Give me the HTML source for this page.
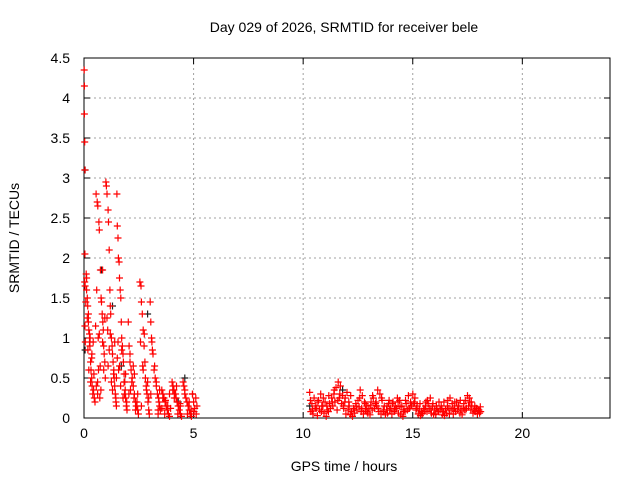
<!DOCTYPE html>
<html><head><meta charset="utf-8"><style>
html,body{margin:0;padding:0;background:#fff}
svg{display:block;font-family:"Liberation Sans",sans-serif}
</style></head><body>
<svg id="chart" width="640" height="480">
<text x="344" y="32" font-size="14" text-anchor="middle">Day 029 of 2026, SRMTID for receiver bele</text>
<text x="344" y="471" font-size="14" text-anchor="middle">GPS time / hours</text>
<text x="19" y="238" font-size="14" text-anchor="middle" transform="rotate(-90 19 238)">SRMTID / TECUs</text>
<g id="grid"></g>
<g id="axes"></g>
<g id="marks"></g>
</svg>
<script>
const xTicks=[0,5,10,15,20];
const yTicks=[0,0.5,1,1.5,2,2.5,3,3.5,4,4.5];
const yTickLabels=["0","0.5","1","1.5","2","2.5","3","3.5","4","4.5"];
const earlyT=[0.01,0.02,0.02,0.03,0.04,0.04,0.03,0.05,0.04,0.06,
0.1,0.12,0.15,0.17,0.2,0.22,0.25,0.27,0.3,0.32,0.35,0.37,0.4,0.12,0.2,0.28,0.36,0.44,0.47,
0.55,0.6,0.63,0.68,0.7,0.75,0.78,0.8,0.83,0.86,0.88,0.9,0.92,0.95,0.97,0.56,0.62,0.72,0.85,0.66,
1.0,1.02,1.05,1.1,1.12,1.15,1.18,1.2,1.22,1.25,1.28,1.3,1.33,1.36,1.38,1.4,1.43,1.46,1.48,1.08,
1.5,1.52,1.55,1.57,1.6,1.62,1.65,1.68,1.7,1.72,1.75,1.78,1.8,1.83,1.86,1.88,1.9,1.93,1.96,1.58,
2.02,2.06,2.1,2.15,2.2,2.25,2.3,2.35,2.4,2.45,2.48,2.12,2.28,2.38,
2.55,2.6,2.62,2.66,2.7,2.74,2.78,2.8,2.84,2.88,2.92,2.95,2.98,2.7,
3.02,3.05,3.08,3.1,3.15,3.2,3.25,3.3,3.35,3.4,3.42,3.45,3.48,3.38,
3.55,3.6,3.65,3.7,3.75,3.8,3.85,3.9,3.95,3.72,
4.02,4.06,4.1,4.15,4.2,4.25,4.3,4.35,4.4,4.45,4.18,4.38,
4.52,4.56,4.6,4.65,4.7,4.75,4.8,4.85,4.9,4.95,5.0,5.05,5.1,5.15];
const earlyV=[4.35,4.15,3.8,3.45,3.1,2.05,1.7,1.65,1.15,0.95,
1.8,1.6,1.5,1.4,1.2,1.1,0.95,0.9,0.7,0.6,0.5,0.4,0.3,1.75,1.3,1.0,0.8,0.35,0.25,
2.8,2.7,2.65,2.45,2.35,1.85,1.5,1.45,1.3,1.2,1.1,0.9,0.8,0.7,0.5,0.4,0.3,0.25,1.85,0.6,
2.95,2.9,2.8,2.6,2.45,2.1,1.6,1.4,1.3,1.0,0.9,0.8,0.7,0.6,0.5,0.4,0.3,0.2,0.15,1.1,
2.8,2.4,2.25,2.0,1.95,1.75,1.6,1.5,1.2,1.0,0.9,0.8,0.7,0.55,0.45,0.35,0.25,0.15,0.1,0.6,
1.2,0.9,0.8,0.6,0.5,0.4,0.3,0.2,0.15,0.1,0.05,0.35,0.25,0.15,
1.7,1.65,1.45,1.3,1.1,0.9,0.7,0.5,0.4,0.3,0.2,0.1,0.05,0.6,
1.45,1.2,1.0,0.95,0.8,0.6,0.5,0.4,0.3,0.25,0.2,0.15,0.1,0.05,
0.35,0.3,0.25,0.2,0.15,0.1,0.05,0.02,0.12,0.22,
0.45,0.4,0.35,0.3,0.25,0.2,0.15,0.1,0.05,0.02,0.3,0.18,
0.45,0.4,0.3,0.25,0.2,0.15,0.1,0.05,0.02,0.3,0.2,0.12,0.25,0.15];
const earlyT2=[0.15,0.45,0.25,0.35,0.08,0.5,0.3,0.18,0.42,0.22,
0.65,0.9,0.58,0.77,0.95,0.7,0.62,0.85,0.53,0.74,
1.15,1.35,1.05,1.45,1.25,1.4,1.1,1.3,1.2,1.48,
1.62,1.85,1.55,1.95,1.72,1.67,1.9,1.78,1.52,1.83,
2.05,2.3,2.18,2.42,2.1,2.35,2.25,2.45,
2.58,2.85,2.68,2.95,2.75,2.62,2.9,
3.12,3.3,3.22,3.45,3.05,3.38,
3.6,3.82,3.68,3.9,3.55,
4.05,4.28,4.12,4.4,4.22,
4.6,4.88,4.72,5.02,4.8,5.12,4.95];
const earlyV2=[1.25,0.55,1.05,0.75,1.45,0.2,0.45,0.85,0.95,0.6,
1.0,0.6,1.6,0.35,1.25,1.05,0.45,0.95,1.15,0.65,
0.85,0.55,1.25,0.25,0.45,0.95,0.65,0.35,1.05,0.5,
0.65,0.3,0.95,0.2,0.85,0.4,0.55,0.25,0.75,0.45,
0.3,0.55,0.45,0.2,0.7,0.1,0.65,0.3,
0.95,0.35,0.65,0.25,1.05,0.15,0.45,
0.85,0.45,0.65,0.35,0.3,0.1,
0.25,0.15,0.05,0.3,0.12,
0.35,0.05,0.25,0.15,0.4,
0.35,0.1,0.05,0.08,0.2,0.05,0.3];
const lateT=[10.3,10.4,10.5,10.6,10.7,10.8,10.9,11.0,
11.1,11.2,11.3,11.4,11.5,11.6,11.7,11.8,11.9,
12.0,12.1,12.2,12.3,12.4,12.5,12.6,12.7,12.8,12.9,
13.0,13.1,13.2,13.3,13.4,13.5,13.6,13.7,13.8,13.9,
14.0,14.1,14.2,14.3,14.4,14.5,14.6,14.7,14.8,14.9,
15.0,15.1,15.2,15.3,15.4,15.5,15.6,15.7,15.8,15.9,
16.0,16.1,16.2,16.3,16.4,16.5,16.6,16.7,16.8,16.9,
17.0,17.1,17.2,17.3,17.4,17.5,17.6,17.7,17.8,17.9,
18.0,18.1];
const lateV=[0.32,0.18,0.25,0.12,0.22,0.3,0.15,0.2,
0.1,0.18,0.25,0.3,0.38,0.45,0.4,0.28,0.2,
0.32,0.15,0.08,0.12,0.18,0.22,0.35,0.28,0.2,0.15,
0.12,0.2,0.25,0.18,0.35,0.3,0.22,0.15,0.1,0.18,
0.12,0.2,0.15,0.25,0.22,0.15,0.1,0.18,0.28,0.2,
0.3,0.25,0.15,0.1,0.08,0.12,0.2,0.18,0.25,0.15,
0.1,0.12,0.2,0.15,0.08,0.1,0.22,0.25,0.18,0.12,
0.2,0.15,0.1,0.12,0.22,0.28,0.2,0.15,0.1,0.12,
0.1,0.08];
const lateT2=[10.33,10.42,10.58,10.67,10.83,10.92,11.08,11.17,11.33,11.42,11.58,11.67,11.83,11.92,
12.08,12.17,12.33,12.42,12.58,12.67,12.83,12.92,
13.08,13.17,13.33,13.42,13.58,13.67,13.83,13.92,
14.08,14.17,14.33,14.42,14.58,14.67,14.83,14.92,
15.08,15.17,15.33,15.42,15.58,15.67,15.83,15.92,
16.08,16.17,16.33,16.42,16.58,16.67,16.83,16.92,
17.08,17.17,17.33,17.42,17.58,17.67,17.83,17.92,18.02,18.08];
const lateV2=[0.22,0.1,0.15,0.2,0.08,0.25,0.15,0.28,0.2,0.35,0.22,0.3,0.15,0.25,
0.2,0.28,0.1,0.15,0.25,0.12,0.18,0.08,
0.16,0.28,0.2,0.12,0.25,0.08,0.15,0.22,
0.18,0.1,0.2,0.14,0.08,0.22,0.12,0.15,
0.2,0.12,0.18,0.05,0.15,0.22,0.1,0.18,
0.15,0.08,0.12,0.2,0.15,0.05,0.12,0.2,
0.15,0.22,0.18,0.1,0.25,0.2,0.15,0.12,0.1,0.14];
const lowT=[10.35,10.45,10.55,10.65,10.75,10.85,10.95,11.05,11.15,11.25,
11.35,11.45,11.55,11.65,11.75,11.85,11.95,12.05,12.15,12.25,
12.35,12.45,12.55,12.65,12.75,12.85,12.95,13.05,13.15,13.25,
13.35,13.45,13.55,13.65,13.75,13.85,13.95,14.05,14.15,14.25,
14.35,14.45,14.55,14.65,14.75,14.85,14.95,15.05,15.15,15.25,
15.35,15.45,15.55,15.65,15.75,15.85,15.95,16.05,16.15,16.25,
16.35,16.45,16.55,16.65,16.75,16.85,16.95,17.05,17.15,17.25,
17.35,17.45,17.55,17.65,17.75,17.85,17.95,18.05];
const lowV=[0.08,0.05,0.12,0.03,0.1,0.15,0.06,0.02,0.08,0.12,
0.15,0.2,0.1,0.25,0.18,0.12,0.05,0.1,0.04,0.02,
0.06,0.1,0.14,0.08,0.05,0.1,0.06,0.04,0.1,0.12,
0.15,0.08,0.05,0.1,0.04,0.06,0.1,0.05,0.08,0.12,
0.06,0.04,0.02,0.08,0.1,0.12,0.15,0.18,0.1,0.05,
0.03,0.06,0.1,0.08,0.12,0.06,0.04,0.05,0.08,0.1,
0.04,0.03,0.06,0.12,0.1,0.05,0.08,0.1,0.06,0.04,
0.1,0.12,0.15,0.1,0.06,0.08,0.05,0.06];
const blackT=[0.05,0.05,0.8,1.3,1.7,2.9,4.6,10.3,11.8,4.3];
const blackV=[3.1,0.85,1.85,1.4,0.65,1.3,0.5,0.15,0.35,0.2];

const X0=84,X1=610,Y0=418,Y1=58,XMAX=24,YMAX=4.5;
const sx=v=>X0+v/XMAX*(X1-X0);
const sy=v=>Y0-v/YMAX*(Y0-Y1);
const NS="http://www.w3.org/2000/svg";
function mk(tag,attrs,parent){const e=document.createElementNS(NS,tag);for(const k in attrs)e.setAttribute(k,attrs[k]);parent.appendChild(e);return e;}
const grid=document.getElementById('grid'),axes=document.getElementById('axes'),marks=document.getElementById('marks');
xTicks.forEach((t,i)=>{
  const x=sx(t);
  if(t>0){const g=mk('line',{x1:x,x2:x,y1:Y1,y2:Y0,stroke:'#a0a0a0','stroke-dasharray':'2,3'},grid);
  
  }
  mk('line',{x1:x,x2:x,y1:Y0,y2:Y0-6,stroke:'#000'},axes);
  mk('line',{x1:x,x2:x,y1:Y1,y2:Y1+6,stroke:'#000'},axes);
  const l=mk('text',{x:x,y:Y0+20,'font-size':14,'text-anchor':'middle'},axes);
  l.textContent=String(t);
  
  
});
yTicks.forEach((t,i)=>{
  const y=sy(t);
  if(t>0&&t<YMAX){const g=mk('line',{x1:X0,x2:X1,y1:y,y2:y,stroke:'#a0a0a0','stroke-dasharray':'2,3'},grid);
  
  }
  mk('line',{x1:X0,x2:X0+6,y1:y,y2:y,stroke:'#000'},axes);
  mk('line',{x1:X1,x2:X1-6,y1:y,y2:y,stroke:'#000'},axes);
  const l=mk('text',{x:X0-14,y:y+5,'font-size':14,'text-anchor':'end'},axes);
  l.textContent=yTickLabels[i];
  
  
});
const box=mk('rect',{x:X0,y:Y1,width:X1-X0,height:Y0-Y1,fill:'none',stroke:'#000'},axes);


function plus(T,V,color,name){
  let d='';
  for(let i=0;i<T.length;i++){const x=sx(T[i]),y=sy(V[i]);
    d+=`M${(x-3.5).toFixed(1)} ${y.toFixed(1)}h7M${x.toFixed(1)} ${(y-3.5).toFixed(1)}v7`;}
  const p=mk('path',{d:d,stroke:color,'stroke-width':1.2,fill:'none'},marks);
  
  
}
plus(blackT,blackV,'#222','black-points');
plus(earlyT,earlyV,'#f00','early-points');
plus(earlyT2,earlyV2,'#f00','early-points-extra');
plus(lowT,lowV,'#f00','late-low-points');
plus(lateT2,lateV2,'#f00','late-points-extra');
plus(lateT,lateV,'#f00','late-points');
</script>
</body></html>
